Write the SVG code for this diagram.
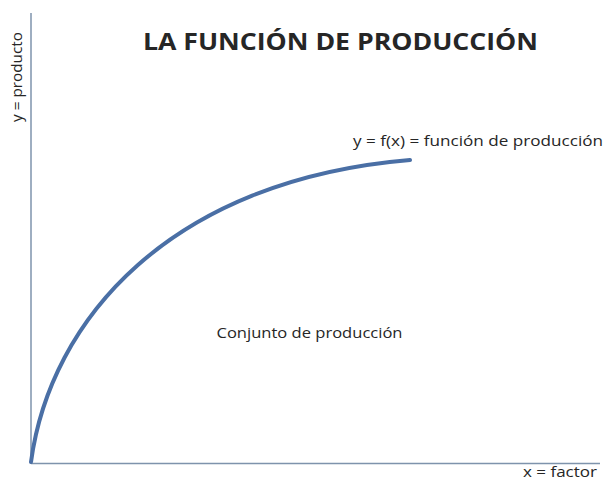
<svg xmlns="http://www.w3.org/2000/svg" width="605" height="481" viewBox="0 0 605 481">
<style>
.t{font-family:"Open Sans","Liberation Sans",Arial,sans-serif;fill:#262626}
.axis{stroke:#7e93ac;stroke-width:1.5;fill:none}
.curve{stroke:#4a6fa5;stroke-width:4;fill:none;stroke-linecap:round}
</style>
<rect width="605" height="481" fill="#ffffff"/>
<g id="title"><text class="t" x="143" y="49.5" font-size="24" font-weight="bold" textLength="395" lengthAdjust="spacingAndGlyphs">LA FUNCIÓN DE PRODUCCIÓN</text></g>
<g id="connectors">
<line id="y-axis" class="axis" x1="31" y1="13" x2="31" y2="463.5"/>
<line id="x-axis" class="axis" x1="31" y1="463.5" x2="600" y2="463.5"/>
<path id="production-curve" class="curve" d="M31,462 C50,320 170,180 410,160"/>
</g>
<g id="y-label"><text class="t" transform="translate(21.5,122) rotate(-90)" x="0" y="0" font-size="14" textLength="90" lengthAdjust="spacingAndGlyphs">y = producto</text></g>
<g id="x-label"><text class="t" x="523" y="477" font-size="14" textLength="74" lengthAdjust="spacingAndGlyphs">x = factor</text></g>
<g id="function-label"><text class="t" x="353" y="145.5" font-size="14" textLength="250" lengthAdjust="spacingAndGlyphs">y = f(x) = función de producción</text></g>
<g id="set-label"><text class="t" x="216.5" y="338" font-size="14" textLength="186" lengthAdjust="spacingAndGlyphs">Conjunto de producción</text></g>
</svg>
